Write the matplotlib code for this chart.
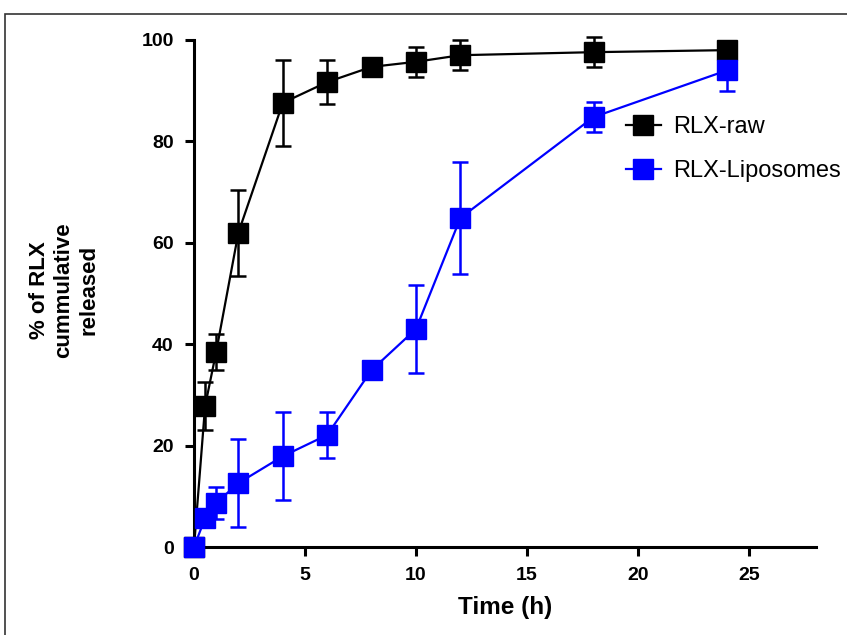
import matplotlib
matplotlib.use("Agg")
import matplotlib.pyplot as plt
from matplotlib.lines import Line2D
from matplotlib.patches import Rectangle
from matplotlib import font_manager

# release data
time_h = [0, 0.5, 1, 2, 4, 6, 8, 10, 12, 18, 24]

raw_mean = [0, 27.8, 38.5, 62, 87.6, 91.7, 94.7, 95.7, 97, 97.6, 98]
raw_err = [0, 4.8, 3.5, 8.5, 8.5, 4.3, 1, 3, 3, 2.9, 1]

lipo_mean = [0, 5.7, 8.7, 12.6, 17.9, 22.1, 34.9, 43, 64.9, 84.8, 94]
lipo_err = [0, 1.5, 3.2, 8.7, 8.7, 4.5, 1, 8.7, 11, 3, 4]

labels = ["RLX-raw", "RLX-Liposomes"]
colors = ["black", "#0000ff"]

names = {f.name for f in font_manager.fontManager.ttflist}
narrow = "Liberation Sans Narrow" if "Liberation Sans Narrow" in names else "Liberation Sans"

fig = plt.figure(figsize=(8.47, 6.35), dpi=100)
ax = fig.add_axes([194 / 847, 88 / 635, 28 * 22.2 / 847, 507 / 635])

# outer frame of the original figure
fig.patches.append(Rectangle((5 / 847, -0.1), 2, (621 / 635) + 0.1,
                             transform=fig.transFigure, fill=False,
                             edgecolor="#333333", linewidth=1.2))

for mean, err, col in [(raw_mean, raw_err, colors[0]), (lipo_mean, lipo_err, colors[1])]:
    ax.errorbar(time_h, mean, yerr=err, color=col, marker="s", markersize=14,
                linewidth=1.6, elinewidth=1.8, capsize=5.5, capthick=1.8,
                clip_on=False, zorder=3)

ax.set_xlim(0, 28)
ax.set_ylim(0, 100)
ax.set_xticks([0, 5, 10, 15, 20, 25])
ax.set_yticks([0, 20, 40, 60, 80, 100])

for side in ["top", "right"]:
    ax.spines[side].set_visible(False)
for side in ["left", "bottom"]:
    ax.spines[side].set_linewidth(2.2)
ax.tick_params(width=2.2, length=6.5, pad=8)

for lab in ax.get_xticklabels() + ax.get_yticklabels():
    lab.set_fontfamily(narrow)
    lab.set_fontweight("bold")
    lab.set_fontsize(14)

ax.set_xlabel("Time (h)", fontfamily=narrow, fontweight="bold", fontsize=17.5)
ax.xaxis.set_label_coords(0.5, -0.097)
ax.set_ylabel("% of RLX\ncummulative\nreleased", fontfamily="Liberation Sans",
              fontweight="bold", fontsize=16, linespacing=1.25)
ax.yaxis.set_label_coords(-0.152, 0.507)

handles = [Line2D([], [], color=c, marker="s", markersize=14, linewidth=1.6) for c in colors]
ax.legend(handles, labels, loc="upper left", bbox_to_anchor=(0.66, 0.892),
          frameon=False, handlelength=1.5, handletextpad=0.5, labelspacing=0.95,
          prop={"family": "Liberation Sans", "size": 17})

fig.savefig("out.png", dpi=100)
